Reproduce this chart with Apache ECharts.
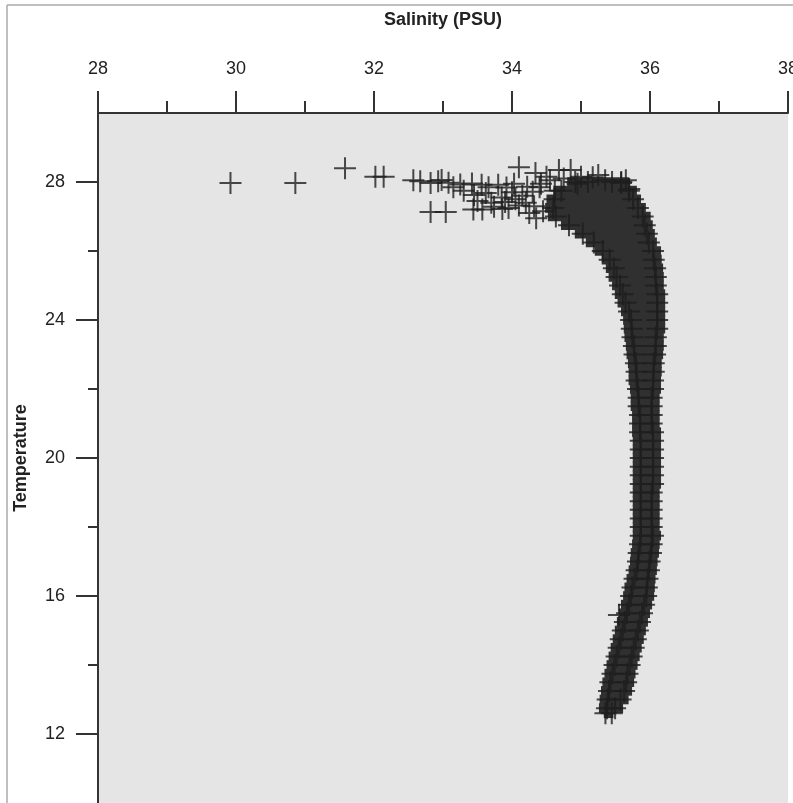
<!DOCTYPE html>
<html>
<head>
<meta charset="utf-8">
<script src="https://cdn.jsdelivr.net/npm/echarts@6/dist/echarts.min.js"></script>
<style>
html, body { margin: 0; padding: 0; background: #fff; }
#chart { width: 793px; height: 803px; }
</style>
</head>
<body>
<div id="chart"></div>
<script>
// axis ticks
var xTicks = [28, 30, 32, 34, 36, 38];
var yTicks = [12, 16, 20, 24, 28];
var yMinorTicks = [14, 18, 22, 26];

// loose crosses above the main curve: [salinity, temperature]
var loosePoints = [
	[29.92, 27.97], [30.86, 27.97], [31.58, 28.40], [32.02, 28.15], [32.14, 28.15],
	[32.57, 28.05], [32.67, 28.02], [32.82, 27.97], [32.93, 28.02], [32.98, 28.06],
	[33.08, 27.98], [33.25, 27.93], [33.42, 27.96], [33.56, 27.92], [33.66, 27.85],
	[33.80, 27.92], [33.92, 27.84], [34.03, 27.95], [34.10, 28.43], [34.22, 27.86],
	[34.34, 28.26], [34.42, 27.95], [34.55, 28.05], [34.68, 28.35], [34.85, 28.35],
	[35.00, 28.15], [35.17, 28.14], [35.35, 28.05], [35.58, 27.97], [35.70, 27.80],
	[33.45, 27.62], [33.62, 27.68], [33.85, 27.55], [34.00, 27.70], [34.15, 27.60],
	[34.30, 27.72], [33.15, 27.85], [33.30, 27.75], [33.50, 27.45], [33.70, 27.40],
	[33.90, 27.42], [34.05, 27.50], [34.20, 27.40], [34.32, 27.30], [34.45, 27.15],
	[34.40, 27.85], [34.50, 28.15], [34.62, 27.75], [34.75, 28.10], [34.95, 27.95],
	[35.10, 28.00], [35.25, 28.20], [35.45, 28.00], [35.65, 28.05],
	[32.82, 27.13], [33.04, 27.13], [33.44, 27.20], [33.57, 27.20], [33.74, 27.28],
	[33.86, 27.22], [33.95, 27.25], [34.10, 27.32], [34.25, 27.10], [34.35, 26.95],
	[35.55, 15.45]
];

// dense part of the profile: salinity spread at each temperature level
var bandStep = 0.25;
var bandTemp = [28.0, 27.75, 27.5, 27.25, 27.0, 26.75, 26.5, 26.25, 26.0, 25.75,
	25.5, 25.25, 25.0, 24.75, 24.5, 24.25, 24.0, 23.75, 23.5, 23.25,
	23.0, 22.75, 22.5, 22.25, 22.0, 21.75, 21.5, 21.25, 21.0, 20.75,
	20.5, 20.25, 20.0, 19.75, 19.5, 19.25, 19.0, 18.75, 18.5, 18.25,
	18.0, 17.75, 17.5, 17.25, 17.0, 16.75, 16.5, 16.25, 16.0, 15.75,
	15.5, 15.25, 15.0, 14.75, 14.5, 14.25, 14.0, 13.75, 13.5, 13.25,
	13.0, 12.75, 12.6];
var bandLo = [34.80, 34.60, 34.50, 34.48, 34.52, 34.71, 34.91, 35.07, 35.20, 35.30,
	35.36, 35.40, 35.45, 35.49, 35.53, 35.58, 35.61, 35.62, 35.63, 35.65,
	35.66, 35.68, 35.69, 35.69, 35.71, 35.72, 35.72, 35.74, 35.74, 35.74,
	35.75, 35.75, 35.75, 35.75, 35.75, 35.75, 35.75, 35.75, 35.75, 35.75,
	35.75, 35.75, 35.74, 35.72, 35.71, 35.69, 35.66, 35.63, 35.61, 35.58,
	35.55, 35.52, 35.49, 35.46, 35.43, 35.40, 35.37, 35.34, 35.31, 35.29,
	35.27, 35.26, 35.33];
var bandHi = [35.70, 35.81, 35.87, 35.94, 36.01, 36.04, 36.07, 36.10, 36.16, 36.17,
	36.19, 36.20, 36.20, 36.22, 36.22, 36.22, 36.22, 36.22, 36.20, 36.20,
	36.19, 36.17, 36.17, 36.16, 36.16, 36.14, 36.14, 36.14, 36.14, 36.16,
	36.16, 36.16, 36.16, 36.16, 36.16, 36.16, 36.14, 36.14, 36.14, 36.14,
	36.14, 36.16, 36.14, 36.13, 36.11, 36.10, 36.08, 36.07, 36.06, 36.03,
	36.00, 35.97, 35.94, 35.91, 35.88, 35.85, 35.82, 35.79, 35.77, 35.74,
	35.69, 35.61, 35.47];

var font = 'Liberation Sans, Arial, sans-serif';
var plus = 'path://M10,0H12V10H22V12H12V22H10V12H0V10H10Z';
var ink = '#1e1e1e';

var chart = echarts.init(document.getElementById('chart'));

var crossSeries = (data, offset) => ({
	type: 'scatter',
	data: data,
	symbol: plus,
	symbolSize: 22,
	symbolOffset: [offset, 0],
	itemStyle: { color: ink },
	silent: true
});

chart.setOption({
	animation: false,
	backgroundColor: '#fff',
	textStyle: { fontFamily: font },
	grid: {
		left: 98, top: 113, right: 5, bottom: 0,
		outerBoundsMode: 'none',
		show: true, backgroundColor: '#e5e5e5', borderWidth: 0
	},
	xAxis: {
		type: 'value', position: 'top',
		min: 28, max: 38, interval: 2,
		name: 'Salinity (PSU)', nameLocation: 'middle', nameGap: 84,
		nameTextStyle: { fontSize: 18, fontWeight: 'bold', color: '#222', fontFamily: font },
		axisLine: { lineStyle: { color: '#333', width: 2 } },
		axisTick: { length: 22, lineStyle: { color: '#333', width: 2 } },
		minorTick: { show: true, splitNumber: 2, length: 12, lineStyle: { color: '#333', width: 2 } },
		axisLabel: {
			margin: 35, fontSize: 18, color: '#222', fontFamily: font,
			customValues: xTicks, showMaxLabel: true
		},
		splitLine: { show: false }
	},
	yAxis: [{
		type: 'value', position: 'left',
		min: 10, max: 30,
		name: 'Temperature', nameLocation: 'middle', nameGap: 68, nameRotate: 90,
		nameTextStyle: { fontSize: 18, fontWeight: 'bold', color: '#222', fontFamily: font },
		axisLine: { lineStyle: { color: '#333', width: 2 } },
		axisTick: { length: 22, customValues: yTicks, lineStyle: { color: '#333', width: 2 } },
		axisLabel: { margin: 33, fontSize: 18, color: '#222', fontFamily: font, customValues: yTicks },
		splitLine: { show: false }
	}, {
		type: 'value', position: 'left', offset: 0,
		min: 10, max: 30,
		axisLine: { show: false },
		axisTick: { length: 10, customValues: yMinorTicks, lineStyle: { color: '#333', width: 2 } },
		axisLabel: { show: false },
		splitLine: { show: false }
	}],
	graphic: [
		{ type: 'line', shape: { x1: 7, y1: 5, x2: 793, y2: 5 }, style: { stroke: '#aaa', lineWidth: 1.5 } },
		{ type: 'line', shape: { x1: 7, y1: 5, x2: 7, y2: 803 }, style: { stroke: '#aaa', lineWidth: 1.5 } }
	],
	series: [{
		type: 'custom',
		data: bandTemp.map((t, i) => [t, bandLo[i], bandHi[i]]),
		encode: { x: [1, 2], y: 0 },
		silent: true,
		renderItem: (params, api) => {
			var a = api.coord([api.value(1), api.value(0)]);
			var b = api.coord([api.value(2), api.value(0)]);
			var h = api.size([0, bandStep])[1] + 1;
			return {
				type: 'rect',
				shape: { x: a[0], y: a[1] - h / 2, width: b[0] - a[0], height: h },
				style: { fill: '#303030' }
			};
		}
	},
	crossSeries(bandTemp.map((t, i) => [bandLo[i], t]), 8),
	crossSeries(bandTemp.map((t, i) => [bandHi[i], t]), -8),
	crossSeries(loosePoints, 0)
	]
});
</script>
</body>
</html>
